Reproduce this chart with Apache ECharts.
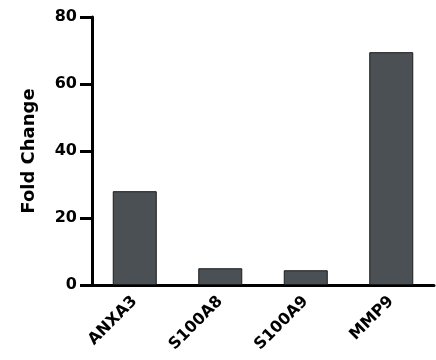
<!DOCTYPE html>
<html><head><meta charset="utf-8">
<script src="https://cdn.jsdelivr.net/npm/echarts@6/dist/echarts.min.js"></script>
<style>html,body{margin:0;padding:0;background:#fff}#c{width:436px;height:360px}</style>
</head><body><div id="c"></div>
<script>
const categories = ['ANXA3', 'S100A8', 'S100A9', 'MMP9'];
const foldChange = [28, 5, 4.4, 69.5];
const yTicks = { min: 0, max: 80, interval: 20 };
const font = 'DejaVu Sans, Liberation Sans, Arial, sans-serif';
const chart = echarts.init(document.getElementById('c'));
chart.setOption({
  animation: false,
  grid: { left: 92, right: 2, top: 17, bottom: 75 },
  xAxis: {
    type: 'category', data: categories,
    axisLine: { lineStyle: { color: '#000', width: 3 } },
    axisTick: { alignWithLabel: true, length: 11, lineStyle: { color: '#000', width: 3 } },
    axisLabel: { rotate: 45, margin: 14, color: '#000', fontWeight: 'bold', fontSize: 16, fontFamily: font }
  },
  yAxis: {
    type: 'value', min: yTicks.min, max: yTicks.max, interval: yTicks.interval,
    name: 'Fold Change', nameLocation: 'middle', nameGap: 54,
    nameTextStyle: { color: '#000', fontWeight: 'bold', fontSize: 18, fontFamily: font },
    axisLine: { show: true, lineStyle: { color: '#000', width: 3 } },
    axisTick: { show: true, length: 12, lineStyle: { color: '#000', width: 3 } },
    axisLabel: { margin: 15, color: '#000', fontWeight: 'bold', fontSize: 16, fontFamily: font },
    splitLine: { show: false }
  },
  series: [{
    type: 'bar', data: foldChange, barWidth: 44,
    itemStyle: { color: '#4b5054', borderColor: '#1a1a1a', borderWidth: 1 }
  }]
});
</script></body></html>
